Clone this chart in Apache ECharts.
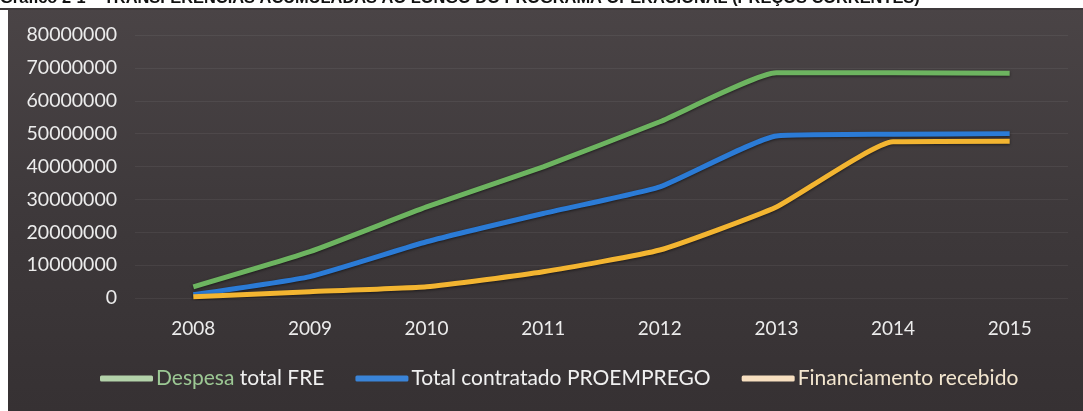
<!DOCTYPE html>
<html>
<head>
<meta charset="utf-8">
<script src="https://cdn.jsdelivr.net/npm/echarts@6/dist/echarts.min.js"></script>
<style>
  html, body { margin: 0; padding: 0; background: #ffffff; }
  #chart { width: 1083px; height: 411px; }
</style>
</head>
<body>
<div id="chart"></div>
<script>
// Years of the operational programme
const years = ['2008', '2009', '2010', '2011', '2012', '2013', '2014', '2015'];

// Cumulative values (euros, current prices)
const despesaTotalFRE = [3400000, 14100000, 27700000, 39900000, 53600000, 68500000, 68500000, 68400000];
const totalContratadoProemprego = [1000000, 6500000, 17100000, 25700000, 33800000, 49300000, 49800000, 50000000];
const financiamentoRecebido = [400000, 1900000, 3400000, 8000000, 14600000, 27700000, 47500000, 47700000];

const seriesNames = ['Despesa total FRE', 'Total contratado PROEMPREGO', 'Financiamento recebido'];
const yTicks = { min: 0, max: 80000000, interval: 10000000 };

const chart = echarts.init(document.getElementById('chart'));

const lineShadow = { shadowColor: 'rgba(0,0,0,0.55)', shadowBlur: 3, shadowOffsetY: 1 };
const labelFont = 'Lato, "Open Sans", sans-serif';

chart.setOption({
  backgroundColor: '#ffffff',
  animation: false,
  graphic: [
    {
      type: 'rect',
      z: -10,
      shape: { x: 8, y: 8, width: 1075, height: 403 },
      style: {
        fill: new echarts.graphic.LinearGradient(0, 0, 0, 1, [
          { offset: 0, color: '#4a4446' },
          { offset: 0.5, color: '#3e393b' },
          { offset: 1, color: '#363133' }
        ])
      }
    },
    {
      type: 'text',
      left: 0,
      top: -10,
      z: 10,
      style: {
        text: 'Gráfico 2-1 – TRANSFERÊNCIAS ACUMULADAS AO LONGO DO PROGRAMA OPERACIONAL (PREÇOS CORRENTES)',
        font: 'bold 16.4px "Liberation Sans", Arial, sans-serif',
        fill: '#111111'
      }
    },
    {
      type: 'rect',
      z: 11,
      shape: { x: 0, y: 8, width: 1083, height: 2 },
      style: { fill: '#3f3a3c' }
    }
  ],
  grid: { left: 135, right: 15, top: 35, bottom: 113 },
  xAxis: {
    type: 'category',
    data: years,
    boundaryGap: true,
    axisLine: { show: false },
    axisTick: { show: false },
    axisLabel: {
      color: '#ececec',
      fontFamily: labelFont,
      fontSize: 19,
      margin: 21
    }
  },
  yAxis: {
    type: 'value',
    min: yTicks.min,
    max: yTicks.max,
    interval: yTicks.interval,
    axisLine: { show: false },
    axisTick: { show: false },
    splitLine: { lineStyle: { color: 'rgba(255,255,255,0.06)', width: 1 } },
    axisLabel: {
      color: '#ececec',
      fontFamily: labelFont,
      fontSize: 19.5,
      margin: 18,
      formatter: function (v) { return String(v); }
    }
  },
  legend: {
    bottom: 17,
    left: 95,
    itemGap: 31,
    itemWidth: 53,
    itemHeight: 6,
    textStyle: {
      color: '#f0f0f0',
      fontFamily: labelFont,
      fontSize: 21,
      padding: [0, 0, 0, -2],
      rich: {
        g: { color: '#9cc894', fontFamily: labelFont, fontSize: 21 },
        w: { color: '#f0f0f0', fontFamily: labelFont, fontSize: 21 },
        c: { color: '#f3e6cf', fontFamily: labelFont, fontSize: 21 }
      }
    },
    formatter: function (name) {
      if (name === seriesNames[0]) return '{g|Despesa}{w| total FRE}';
      if (name === seriesNames[2]) return '{c|' + name + '}';
      return '{w|' + name + '}';
    },
    data: [
      { name: seriesNames[0], icon: 'roundRect', itemStyle: { color: '#b3d2aa' } },
      { name: seriesNames[1], icon: 'roundRect', itemStyle: { color: '#3a84d8' } },
      { name: seriesNames[2], icon: 'roundRect', itemStyle: { color: '#f7dfc0' } }
    ]
  },
  series: [
    {
      name: seriesNames[0],
      type: 'line',
      data: despesaTotalFRE,
      smooth: 0.15,
      symbol: 'none',
      z: 3,
      itemStyle: { color: '#6db460' },
      lineStyle: Object.assign({ color: '#6db460', width: 5 }, lineShadow)
    },
    {
      name: seriesNames[1],
      type: 'line',
      data: totalContratadoProemprego,
      smooth: 0.15,
      symbol: 'none',
      z: 4,
      itemStyle: { color: '#2b7bd6' },
      lineStyle: Object.assign({ color: '#2b7bd6', width: 5 }, lineShadow)
    },
    {
      name: seriesNames[2],
      type: 'line',
      data: financiamentoRecebido,
      smooth: 0.15,
      symbol: 'none',
      z: 5,
      itemStyle: { color: '#f3b531' },
      lineStyle: Object.assign({ color: '#f3b531', width: 5 }, lineShadow)
    }
  ]
});
</script>
</body>
</html>
